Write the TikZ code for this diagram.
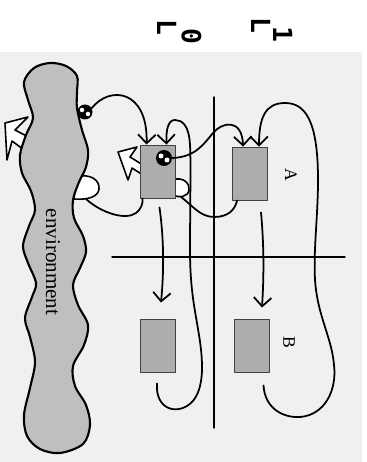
\documentclass[tikz,border=0pt]{standalone}
\usepackage{fontspec}
\setmainfont{Liberation Serif}
\newfontfamily\layerfont{DejaVu Sans Mono}
\usetikzlibrary{arrows.meta, positioning, calc}

\begin{document}
\begin{tikzpicture}[x=0.02cm, y=-0.02cm, line cap=round, line join=round,
  conn/.style={line width=1pt, -{Straight Barb[length=5pt,width=10pt]}},
  link/.style={line width=1pt},
  cell/.style={draw=black!75, line width=0.5pt, fill=black!32, minimum width=0.7cm, minimum height=1.06cm, inner sep=0pt},
  eyeball/.style={circle, fill=black, inner sep=0pt, minimum size=0.3cm},
  hollow/.style={draw, line width=0.9pt, fill=white},
  layer/.style={font=\layerfont\bfseries\fontsize{15}{15}\selectfont, rotate=-90, anchor=base west, inner sep=0pt},
  letter/.style={font=\fontsize{10}{10}\selectfont, rotate=-90}]

  \useasboundingbox (0,0) rectangle (367,462);
  \fill[black!6] (0,52) rectangle (362,462);

  % layer dividers
  \draw[line width=0.8pt] (214,97) -- (214,428);
  \draw[line width=0.8pt] (112,257) -- (345,257);

  % layer labels
  \node[layer] (l0) at (157,19) {L\kern-4pt\raisebox{0.5cm}{0}};
  \node[layer] (l1) at (251,17) {L\kern-4pt\raisebox{0.44cm}{1}};

  % environment
  \draw[hollow] (36,141) -- (15,130) -- (28,117) -- (5,123) -- (7,160) -- (12,141) -- (31,155) -- cycle;
  \draw[hollow] (76,177) .. controls (90,173) and (100,180) .. (99,189) .. controls (98,197) and (88,200) .. (74,199) -- cycle;
  \draw[line width=1.2pt, fill=black!25] plot[smooth cycle, tension=0.55] coordinates {
    (50,63) (66,66) (77,76) (77,92) (77,108) (82,130) (88,150) (86,167) (79,182)
    (73,200) (74,218) (83,236) (86,252) (80,268) (73,285) (78,305) (88,325) (84,345)
    (73,366) (75,386) (86,405) (90,425) (83,444) (60,453) (40,449) (27,436) (24,415)
    (30,388) (35,362) (30,337) (25,318) (32,297) (36,283) (28,263) (23,246) (29,226)
    (35,210) (31,191) (22,173) (20,155) (26,135) (33,118) (28,100) (24,82) (34,68)};
  \node[font=\fontsize{12}{12}\selectfont, rotate=-90] (env) at (53,262) {environment};
  \node[eyeball] (eye0) at (85,112) {};
  \fill[white] ($(eye0)+(-3,-2)$) circle (0.045cm) ($(eye0)+(3,2)$) circle (0.045cm);
  \coordinate (envlip) at (86,199);

  % cells
  \draw[hollow] (143,165) -- (130,157) -- (137,147) -- (118,152) -- (128,180) -- (132,168) -- (143,175) -- cycle;
  \draw[hollow] (172,180) .. controls (184,176) and (190,184) .. (189,190) .. controls (188,197) and (180,198) .. (172,195) -- cycle;
  \node[cell] (a0) at (157.5,171.5) {};
  \node[cell] (a1) at (250,173.5) {};
  \node[cell] (b0) at (158,345.5) {};
  \node[cell] (b1) at (251.5,345.5) {};
  \node[eyeball, minimum size=0.32cm] (eye1) at (164,158) {};
  \fill[white] ($(eye1)+(-3,-2)$) circle (0.05cm) ($(eye1)+(3,2)$) circle (0.05cm);
  \coordinate (a0lip) at (181,197);
  \node[letter] (la) at (291,175) {A};
  \node[letter] (lb) at (289,342) {B};

  % connectors
  \draw[conn] (eye0.30) .. controls (110,85) and (148,90) .. ($(a0.north west)+(7,0)$);
  \draw[conn] (eye1.east) .. controls (195,157) and (203,145) .. (213,133)
    .. controls (222,122) and (242,118) .. ($(a1.north west)+(11,0)$);
  \draw[link] (envlip) .. controls (100,212) and (125,221) .. (136,213)
    .. controls (141,209) and (143,204) .. ($(a0.south west)+(3,0)$);
  \draw[link] (a0lip) .. controls (192,205) and (200,217) .. (214,217)
    .. controls (228,217) and (235,210) .. ($(a1.south west)+(5,0)$);
  \draw[conn] ($(a0.south)+(2,9)$) .. controls (164,240) and (164,270) .. ($(b0.north)+(3,-16)$);
  \draw[conn] ($(a1.south)+(11,12)$) .. controls (264,245) and (264,275) .. ($(b1.north)+(10.5,-11)$);
  \draw[conn] ($(b0.south)+(-1,11)$) .. controls (155,410) and (178,416) .. (192,402)
    .. controls (205,388) and (203,360) .. (199,335) .. controls (195,310) and (190,290) .. (190,250)
    .. controls (190,215) and (191,160) .. (190,145) .. controls (189,125) and (182,120) .. (175,120)
    .. controls (168,120) and (166,130) .. ($(a0.north)+(9,0)$);
  \draw[conn] ($(b1.south)+(12,13)$) .. controls (265,410) and (285,418) .. (300,417)
    .. controls (325,415) and (337,390) .. (334,365) .. controls (332,340) and (320,320) .. (316,290)
    .. controls (312,260) and (318,220) .. (318,180) .. controls (318,120) and (305,103) .. (285,103)
    .. controls (265,103) and (259,118) .. ($(a1.north)+(9,0)$);
\end{tikzpicture}
\end{document}
